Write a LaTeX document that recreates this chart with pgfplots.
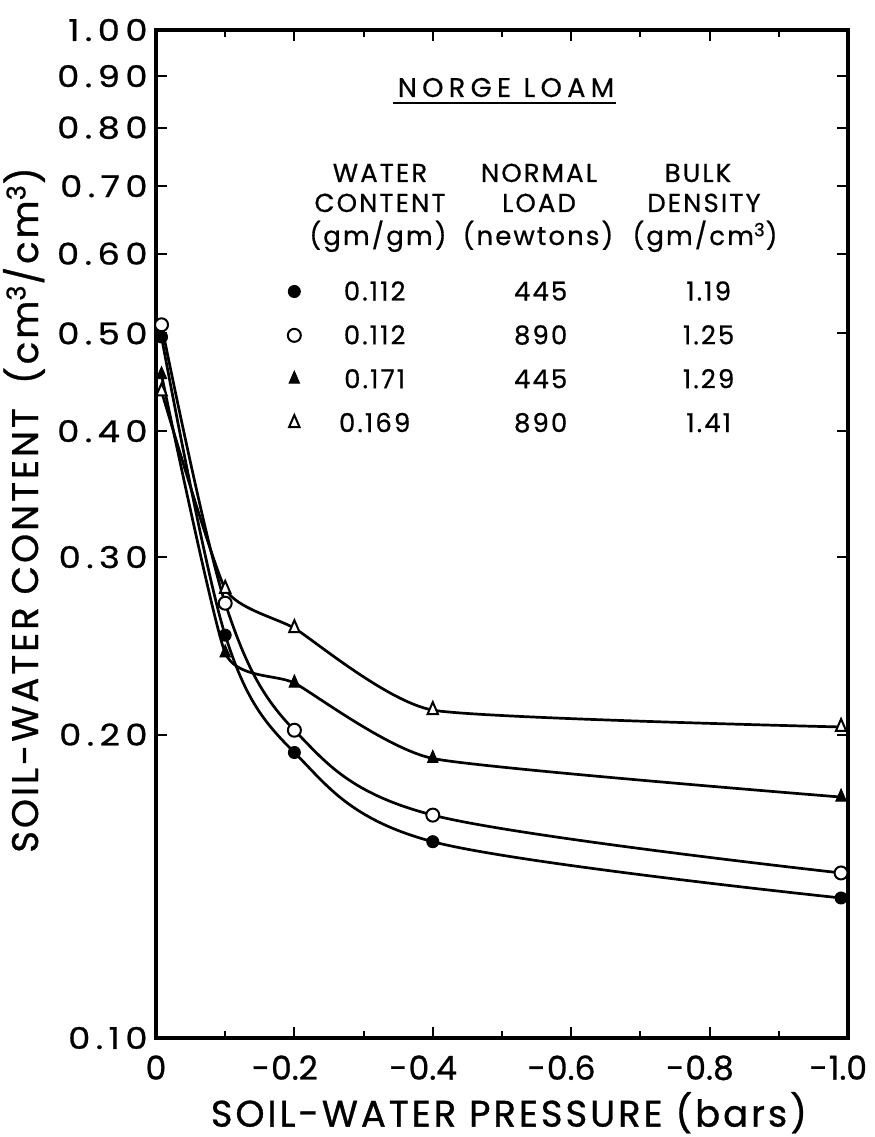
\documentclass[border=0pt]{standalone}
\usepackage{pgfplots}
\pgfplotsset{compat=1.18}
\usepackage{fontspec}
\setmainfont{Poppins}
\newfontfamily\pop{Poppins}[FakeBold=0.8]
\newfontfamily\popw{Poppins}[LetterSpace=8,FakeBold=0.8]
\newfontfamily\popy{Poppins}[LetterSpace=18,FakeStretch=1.18,FakeBold=0.8]
\newfontfamily\popl{Poppins}[LetterSpace=8,FakeBold=0.6]
\newfontfamily\popn{Poppins}[LetterSpace=20,FakeBold=0.6]
\newcommand\xtf{\pop\fontsize{16.5bp}{19bp}\selectfont}
\newcommand\ytf{\popy\fontsize{15bp}{18bp}\selectfont}
\newcommand\labf{\popw\fontsize{18.5bp}{21bp}\selectfont}
\newcommand\legf{\popl\fontsize{13bp}{15bp}\selectfont}
\newcommand\nlf{\popn\fontsize{13.5bp}{15bp}\selectfont}

\pgfplotstableread{
x y
-0.008 0.496
-0.1 0.251
-0.2 0.192
-0.4 0.1566
-0.99 0.1377
}\fcirc
\pgfplotstableread{
x y
-0.008 0.510
-0.1 0.270
-0.2 0.202
-0.4 0.1664
-0.99 0.1458
}\ocirc
\pgfplotstableread{
x y
-0.008 0.455
-0.1 0.241
-0.2 0.225
-0.4 0.1894
-0.99 0.1734
}\ftri
\pgfplotstableread{
x y
-0.008 0.438
-0.1 0.279
-0.2 0.255
-0.4 0.2115
-0.99 0.2035
}\otri

\begin{document}
\begin{tikzpicture}
\useasboundingbox (-78bp,-49.5bp) rectangle (359.5bp,519bp);
\begin{axis}[
  at={(0bp,0bp)}, anchor=south west,
  scale only axis, width=346bp, height=504bp,
  xmin=-1, xmax=0, x dir=reverse,
  ymode=log, ymin=0.1, ymax=1,
  xtick={0,-0.2,-0.4,-0.6,-0.8,-1},
  xticklabels={0,\llap{-\hspace{0.5bp}}0.2,\llap{-\hspace{0.5bp}}0.4,\llap{-\hspace{0.5bp}}0.6,\llap{-\hspace{0.5bp}}0.8,\llap{-\hspace{0.5bp}}1.0},
  minor xtick={-0.1,-0.3,-0.5,-0.7,-0.9},
  ytick={0.1,0.2,0.3,0.4,0.5,0.6,0.7,0.8,0.9,1},
  yticklabels={0.10,0.20,0.30,0.40,0.50,0.60,0.70,0.80,0.90,1.00},
  yminorticks=false,
  tick align=inside,
  major tick length=5.5bp, minor tick length=3.5bp,
  tick style={black, line width=1bp},
  axis line style={line width=2.2bp},
  xticklabel style={font=\xtf, inner sep=0pt, anchor=north, yshift=-8.5bp},
  yticklabel style={font=\ytf, inner sep=0pt, anchor=east, xshift=-4bp},
  xlabel={SOIL-WATER PRESSURE (bars)},
  every axis x label/.style={at={(rel axis cs:0.51,-0.0879)}, anchor=base, font=\labf},
  ylabel={SOIL-WATER CONTENT\hspace{12bp}(cm\textsuperscript{3}/cm\textsuperscript{3})},
  every axis y label/.style={at={(rel axis cs:-0.1705,0.5238)}, rotate=90, anchor=base, font=\labf},
  clip=false,
  legend style={draw=none, fill=none, inner sep=0pt, outer sep=0pt,
    at={(rel axis cs:0.1835,0.7503)}, anchor=north west,
    row sep=11.85bp, column sep=0pt, font=\legf,
    nodes={inner sep=0pt, outer sep=0pt, anchor=base west, text height=9.4bp, text depth=0pt}},
  legend cell align=left,
  legend image code/.code={\path (-5bp,0bp) (5bp,0bp); \draw[#1] plot[only marks] coordinates {(0bp,4.5bp)};},
  every axis plot/.append style={line width=1.35bp, black},
]
\addplot[smooth, tension=0.55, mark=*, mark size=3bp, mark options={fill=black, draw=black, line width=0.5bp}] table {\fcirc};
\addlegendentry{\hspace*{34.5bp}\makebox[0pt]{0.112}\hspace*{83bp}\makebox[0pt]{445}\hspace*{84bp}\makebox[0pt]{1.19}}
\addplot[smooth, tension=0.55, mark=*, mark size=3.25bp, mark options={fill=white, draw=black, line width=1bp}] table {\ocirc};
\addlegendentry{\hspace*{34.5bp}\makebox[0pt]{0.112}\hspace*{83bp}\makebox[0pt]{890}\hspace*{84bp}\makebox[0pt]{1.25}}
\addplot[smooth, tension=0.3, mark=triangle*, mark size=4bp, mark options={xscale=0.75, fill=black, draw=black, line width=0.5bp}] table {\ftri};
\addlegendentry{\hspace*{34.5bp}\makebox[0pt]{0.171}\hspace*{83bp}\makebox[0pt]{445}\hspace*{84bp}\makebox[0pt]{1.29}}
\addplot[smooth, tension=0.3, mark=triangle*, mark size=4bp, mark options={xscale=0.75, fill=white, draw=black, line width=1bp}] table {\otri};
\addlegendentry{\hspace*{34.5bp}\makebox[0pt]{0.169}\hspace*{83bp}\makebox[0pt]{890}\hspace*{84bp}\makebox[0pt]{1.41}}
\end{axis}
% table title and column headers
\node[anchor=base, font=\nlf, inner sep=0pt] at (175bp,470.5bp) {NORGE LOAM};
\draw[line width=1bp] (118.5bp,467.5bp) -- (230bp,467.5bp);
\begin{scope}[every node/.style={anchor=base, font=\legf, inner sep=0pt}]
\node at (112bp,428bp) {WATER};
\node at (112bp,413bp) {CONTENT};
\node at (111bp,396.5bp) {(gm/gm)};
\node at (191.5bp,428bp) {NORMAL};
\node at (191.5bp,413bp) {LOAD};
\node at (191bp,396.5bp) {(newtons)};
\node at (271bp,428bp) {BULK};
\node at (274bp,413bp) {DENSITY};
\node at (274.5bp,396.5bp) {(gm/cm\textsuperscript{3})};
\end{scope}
\end{tikzpicture}
\end{document}
